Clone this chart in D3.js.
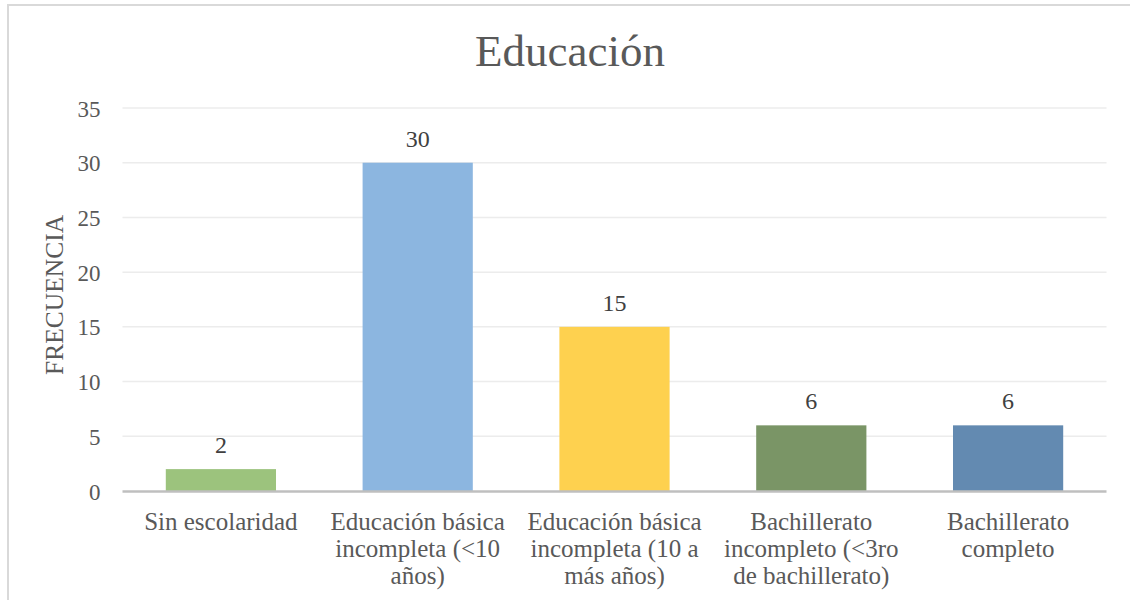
<!DOCTYPE html>
<html><head><meta charset="utf-8">
<script src="https://cdn.jsdelivr.net/npm/d3@7"></script>
<style>
html,body{margin:0;padding:0;background:#fff;}
</style></head>
<body>
<svg id="chart" width="1130" height="600"></svg>
<script>
const categories = [
  ["Sin escolaridad"],
  ["Educación básica", "incompleta (<10", "años)"],
  ["Educación básica", "incompleta (10 a", "más años)"],
  ["Bachillerato", "incompleto (<3ro", "de bachillerato)"],
  ["Bachillerato", "completo"]
];
const values = [2, 30, 15, 6, 6];
const colors = ["#9cc37d", "#8cb6e0", "#fed14f", "#7a9566", "#638ab1"];
const yTicks = [0, 5, 10, 15, 20, 25, 30, 35];
const title = "Educación";
const yTitle = "FRECUENCIA";
const FONT = "'Liberation Serif'";

const svg = d3.select("#chart");
const margin = {left: 122.5, right: 1106.5, top: 108, bottom: 491};

// outer border
svg.append("line").attr("x1", 8).attr("x2", 1130).attr("y1", 5).attr("y2", 5)
  .attr("stroke", "#d9d9d9").attr("stroke-width", 2);
svg.append("line").attr("x1", 8).attr("x2", 8).attr("y1", 4).attr("y2", 600)
  .attr("stroke", "#d9d9d9").attr("stroke-width", 2);

const x = d3.scaleBand().domain(d3.range(categories.length))
  .range([margin.left, margin.right]).paddingInner(0.44).paddingOuter(0.22);
const y = d3.scaleLinear().domain([0, 35]).range([margin.bottom, margin.top]);

// gridlines
svg.append("g").selectAll("line").data(yTicks.filter(d => d > 0)).join("line")
  .attr("x1", margin.left).attr("x2", margin.right)
  .attr("y1", d => y(d)).attr("y2", d => y(d))
  .attr("stroke", "#ececec").attr("stroke-width", 1.5);

// y axis labels
const yAxis = d3.axisLeft(y).tickValues(yTicks).tickSize(0).tickPadding(0);
const yg = svg.append("g").attr("transform", `translate(${margin.left - 22},0)`).call(yAxis);
yg.attr("font-family", null).attr("font-size", null);
yg.select(".domain").remove();
yg.selectAll("text").style("font-size", "23px").style("fill", "#595959")
  .style("font-family", FONT).attr("dy", "0.35em");

// bars
svg.append("g").selectAll("rect").data(values).join("rect")
  .attr("x", (d, i) => x(i)).attr("width", x.bandwidth())
  .attr("y", d => y(d)).attr("height", d => y(0) - y(d))
  .attr("fill", (d, i) => colors[i]);

// value labels
svg.append("g").selectAll("text").data(values).join("text")
  .attr("x", (d, i) => x(i) + x.bandwidth() / 2)
  .attr("y", d => y(d) - 16)
  .attr("text-anchor", "middle")
  .style("font-size", "24px").style("fill", "#404040").style("font-family", FONT)
  .text(d => d);

// x axis line
svg.append("line").attr("x1", margin.left).attr("x2", margin.right)
  .attr("y1", y(0) + 0.5).attr("y2", y(0) + 0.5)
  .attr("stroke", "#bfbfbf").attr("stroke-width", 2.5);

// category labels
const xl = svg.append("g").selectAll("text").data(categories).join("text")
  .attr("x", (d, i) => x(i) + x.bandwidth() / 2)
  .attr("y", 530)
  .attr("text-anchor", "middle")
  .style("font-size", "25px").style("fill", "#595959").style("font-family", FONT);
xl.selectAll("tspan").data((d, i) => d.map(t => ({t, i}))).join("tspan")
  .attr("x", d => x(d.i) + x.bandwidth() / 2)
  .attr("dy", (d, j) => j === 0 ? 0 : 27)
  .text(d => d.t);

// title
svg.append("text").attr("x", 570).attr("y", 66).attr("text-anchor", "middle")
  .style("font-size", "45px").style("fill", "#595959").style("font-family", FONT).text(title);

// y title
svg.append("text").attr("transform", "translate(63,295) rotate(-90)")
  .attr("text-anchor", "middle")
  .style("font-size", "25.5px").style("fill", "#595959").style("font-family", FONT)
  .text(yTitle);
</script>
</body></html>
